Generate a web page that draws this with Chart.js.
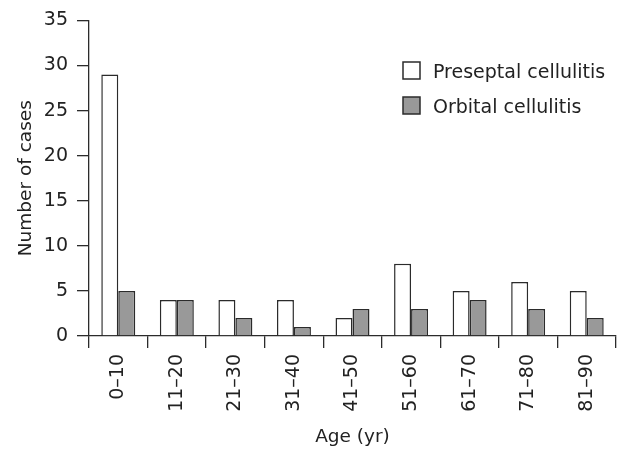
<!DOCTYPE html>
<html>
<head>
<meta charset="utf-8">
<script src="https://cdn.jsdelivr.net/npm/chart.js@4.4.0/dist/chart.umd.min.js"></script>
<style>
    html, body { margin: 0; padding: 0; background: #fff; }
    #wrap { width: 619px; height: 449px; position: relative; }
</style>
</head>
<body>
<div id="wrap"><canvas id="chart"></canvas></div>
<script>
// data
const ageGroups = ['0–10', '11–20', '21–30', '31–40', '41–50', '51–60', '61–70', '71–80', '81–90'];
const preseptalCases = [29, 4, 4, 4, 2, 8, 5, 6, 5];
const orbitalCases = [5, 4, 2, 1, 3, 3, 4, 3, 2];
const seriesNames = ['Preseptal cellulitis', 'Orbital cellulitis'];
const yMin = 0;
const yMax = 35;
const yStep = 5;

const INK = '#2b2b2b';

Chart.defaults.font.family = '"DejaVu Sans", sans-serif';
Chart.defaults.font.size = 19;
Chart.defaults.color = '#222';

// legend drawn as a small boxed list inside the plot, like the original
const boxLegend = {
    id: 'boxLegend',
    afterDraw(chart) {
        const ctx = chart.ctx;
        chart.data.datasets.forEach((ds, i) => {
            const x = 403;
            const y = 62 + i * 35;
            ctx.save();
            ctx.fillStyle = ds.backgroundColor;
            ctx.strokeStyle = ds.borderColor;
            ctx.lineWidth = 1.5;
            ctx.fillRect(x, y, 17, 17);
            ctx.strokeRect(x, y, 17, 17);
            ctx.fillStyle = '#222';
            ctx.font = '19px "DejaVu Sans", sans-serif';
            ctx.textBaseline = 'alphabetic';
            ctx.fillText(ds.label, 433, y + 16);
            ctx.restore();
        });
    }
};

new Chart(document.getElementById('chart'), {
    type: 'bar',
    data: {
        labels: ageGroups,
        datasets: [
            {
                label: seriesNames[0],
                data: preseptalCases,
                backgroundColor: '#ffffff',
                borderColor: INK,
                borderWidth: 1.5
            },
            {
                label: seriesNames[1],
                data: orbitalCases,
                backgroundColor: '#999999',
                borderColor: INK,
                borderWidth: 1.5
            }
        ]
    },
    options: {
        responsive: true,
        maintainAspectRatio: false,
        devicePixelRatio: 1,
        animation: false,
        layout: { padding: { top: 16, right: 3, bottom: 0, left: 0 } },
        datasets: {
            bar: { categoryPercentage: 0.58, barPercentage: 1 }
        },
        plugins: {
            legend: { display: false },
            tooltip: { enabled: false }
        },
        scales: {
            x: {
                grid: {
                    offset: true,
                    drawOnChartArea: false,
                    tickLength: 12,
                    color: INK,
                    lineWidth: 1.3
                },
                border: { color: INK, width: 1.3 },
                ticks: {
                    minRotation: 90,
                    maxRotation: 90,
                    padding: 6,
                    autoSkip: false
                },
                title: {
                    display: true,
                    text: 'Age (yr)',
                    font: { size: 18.5 },
                    padding: { top: 0, bottom: 1 }
                },
                afterFit(scale) { scale.height = 113; }
            },
            y: {
                min: yMin,
                max: yMax,
                grid: {
                    drawOnChartArea: false,
                    tickLength: 12,
                    color: INK,
                    lineWidth: 1.3
                },
                border: { color: INK, width: 1.3 },
                ticks: { stepSize: yStep, padding: 9 },
                title: {
                    display: true,
                    text: 'Number of cases',
                    font: { size: 18.5 },
                    padding: { top: 15, bottom: 0 }
                },
                afterFit(scale) { scale.width = 89; }
            }
        }
    },
    plugins: [boxLegend]
});
</script>
</body>
</html>
